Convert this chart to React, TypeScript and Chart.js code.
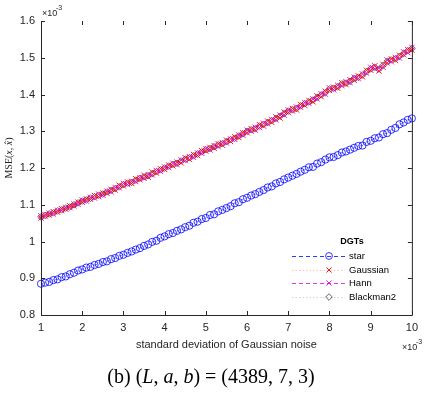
import React, { useEffect, useRef } from 'react';
import { Chart, registerables } from 'chart.js';

Chart.register(...registerables);

// x values: standard deviation of Gaussian noise (×10^-3)
const noiseStd = [
  1.0, 1.1, 1.2, 1.3, 1.4, 1.5, 1.6, 1.7, 1.8, 1.9,
  2.0, 2.1, 2.2, 2.3, 2.4, 2.5, 2.6, 2.7, 2.8, 2.9,
  3.0, 3.1, 3.2, 3.3, 3.4, 3.5, 3.6, 3.7, 3.8, 3.9,
  4.0, 4.1, 4.2, 4.3, 4.4, 4.5, 4.6, 4.7, 4.8, 4.9,
  5.0, 5.1, 5.2, 5.3, 5.4, 5.5, 5.6, 5.7, 5.8, 5.9,
  6.0, 6.1, 6.2, 6.3, 6.4, 6.5, 6.6, 6.7, 6.8, 6.9,
  7.0, 7.1, 7.2, 7.3, 7.4, 7.5, 7.6, 7.7, 7.8, 7.9,
  8.0, 8.1, 8.2, 8.3, 8.4, 8.5, 8.6, 8.7, 8.8, 8.9,
  9.0, 9.1, 9.2, 9.3, 9.4, 9.5, 9.6, 9.7, 9.8, 9.9,
  10.0,
];

// MSE (×10^-3) for the "star" DGT
const starMSE = [
  0.885, 0.888, 0.890, 0.895, 0.897, 0.903, 0.905, 0.911, 0.915, 0.921,
  0.924, 0.929, 0.931, 0.936, 0.939, 0.944, 0.946, 0.952, 0.955, 0.961,
  0.964, 0.969, 0.973, 0.978, 0.982, 0.988, 0.992, 0.999, 1.002, 1.010,
  1.014, 1.020, 1.023, 1.029, 1.033, 1.039, 1.043, 1.051, 1.054, 1.061,
  1.064, 1.072, 1.074, 1.082, 1.086, 1.091, 1.096, 1.104, 1.107, 1.115,
  1.119, 1.125, 1.129, 1.135, 1.140, 1.147, 1.150, 1.158, 1.162, 1.169,
  1.174, 1.179, 1.184, 1.190, 1.195, 1.202, 1.203, 1.212, 1.216, 1.223,
  1.229, 1.230, 1.235, 1.242, 1.245, 1.250, 1.255, 1.260, 1.261, 1.271,
  1.274, 1.281, 1.283, 1.292, 1.295, 1.304, 1.309, 1.319, 1.324, 1.331,
  1.335,
];

// MSE (×10^-3) for the Gaussian DGT
const gaussianMSE = [
  1.064, 1.073, 1.072, 1.081, 1.080, 1.089, 1.088, 1.097, 1.097, 1.107,
  1.107, 1.116, 1.115, 1.125, 1.122, 1.132, 1.131, 1.142, 1.140, 1.153,
  1.151, 1.162, 1.158, 1.171, 1.168, 1.180, 1.175, 1.189, 1.186, 1.198,
  1.196, 1.208, 1.206, 1.216, 1.214, 1.228, 1.223, 1.237, 1.234, 1.247,
  1.246, 1.256, 1.254, 1.266, 1.262, 1.276, 1.272, 1.285, 1.283, 1.296,
  1.296, 1.307, 1.303, 1.318, 1.314, 1.328, 1.324, 1.339, 1.336, 1.352,
  1.351, 1.362, 1.358, 1.373, 1.370, 1.384, 1.380, 1.396, 1.394, 1.409,
  1.411, 1.420, 1.417, 1.432, 1.427, 1.440, 1.439, 1.451, 1.448, 1.466,
  1.466, 1.478, 1.464, 1.482, 1.486, 1.497, 1.493, 1.507, 1.508, 1.522,
  1.521,
];

// MSE (×10^-3) for the Hann DGT
const hannMSE = [
  1.070, 1.068, 1.077, 1.075, 1.085, 1.084, 1.093, 1.092, 1.102, 1.101,
  1.113, 1.110, 1.120, 1.118, 1.129, 1.126, 1.137, 1.135, 1.147, 1.146,
  1.158, 1.155, 1.164, 1.163, 1.174, 1.172, 1.182, 1.181, 1.193, 1.191,
  1.203, 1.201, 1.213, 1.209, 1.222, 1.220, 1.231, 1.229, 1.241, 1.240,
  1.253, 1.249, 1.261, 1.258, 1.269, 1.268, 1.279, 1.278, 1.290, 1.289,
  1.303, 1.300, 1.311, 1.310, 1.322, 1.320, 1.332, 1.331, 1.344, 1.344,
  1.358, 1.355, 1.366, 1.365, 1.378, 1.376, 1.388, 1.388, 1.402, 1.401,
  1.418, 1.413, 1.425, 1.424, 1.435, 1.432, 1.447, 1.443, 1.456, 1.458,
  1.474, 1.470, 1.472, 1.474, 1.494, 1.489, 1.501, 1.499, 1.516, 1.514,
  1.528,
];

// MSE (×10^-3) for the Blackman2 DGT
const blackman2MSE = [
  1.067, 1.071, 1.075, 1.078, 1.083, 1.086, 1.091, 1.094, 1.100, 1.105,
  1.110, 1.113, 1.118, 1.122, 1.126, 1.129, 1.135, 1.139, 1.144, 1.149,
  1.155, 1.159, 1.161, 1.167, 1.172, 1.176, 1.179, 1.185, 1.190, 1.195,
  1.200, 1.205, 1.210, 1.213, 1.219, 1.224, 1.228, 1.233, 1.238, 1.244,
  1.250, 1.253, 1.258, 1.263, 1.266, 1.272, 1.277, 1.281, 1.287, 1.293,
  1.300, 1.304, 1.307, 1.314, 1.319, 1.324, 1.329, 1.335, 1.341, 1.348,
  1.355, 1.359, 1.362, 1.369, 1.375, 1.380, 1.385, 1.392, 1.399, 1.405,
  1.415, 1.417, 1.421, 1.429, 1.431, 1.436, 1.444, 1.447, 1.453, 1.462,
  1.470, 1.474, 1.469, 1.479, 1.490, 1.494, 1.497, 1.504, 1.512, 1.519,
  1.525,
];

const xTickValues = [1, 2, 3, 4, 5, 6, 7, 8, 9, 10];
const yTickValues = [0.8, 0.9, 1.0, 1.1, 1.2, 1.3, 1.4, 1.5, 1.6];

const legendTitle = 'DGTs';
const seriesNames = ['star', 'Gaussian', 'Hann', 'Blackman2'];
const xAxisTitle = 'standard deviation of Gaussian noise';
const captionText = [
  ['(b) (', false],
  ['L', true],
  [', ', false],
  ['a', true],
  [', ', false],
  ['b', true],
  [') = (4389, 7, 3)', false],
] as [string, boolean][];

const AXIS_COLOR = '#262626';
const SANS = '"Liberation Sans", Arial, sans-serif';
const SERIF = '"Liberation Serif", "DejaVu Serif", serif';

const seriesStyles = [
  { color: '#0000ff', line: '#0000ff', dash: [4, 3], point: 'circle', radius: 3.6, pw: 0.8 },
  { color: '#ff0000', line: '#ffb0b0', dash: [1.5, 2], point: 'crossRot', radius: 3.8, pw: 0.9 },
  { color: '#e000e0', line: '#e000e0', dash: [4, 3], point: 'crossRot', radius: 3.8, pw: 0.9 },
  { color: '#000000', line: '#c8c8c8', dash: [1.5, 2], point: 'rectRot', radius: 3.3, pw: 0.6 },
];

function drawSegments(ctx: CanvasRenderingContext2D, segs: [string, boolean][], cx: number, cy: number, size: number, family: string) {
  const fontFor = (it: boolean) => `${it ? 'italic ' : ''}${size}px ${family}`;
  let total = 0;
  for (const [t, it] of segs) {
    ctx.font = fontFor(it);
    total += ctx.measureText(t).width;
  }
  let x = cx - total / 2;
  ctx.textAlign = 'left';
  ctx.textBaseline = 'middle';
  for (const [t, it] of segs) {
    ctx.font = fontFor(it);
    ctx.fillText(t, x, cy);
    x += ctx.measureText(t).width;
  }
}

const overlayPlugin = {
  id: 'overlay',
  afterDraw(chart: any) {
    const ctx: CanvasRenderingContext2D = chart.ctx;
    const { left, right, top, bottom } = chart.chartArea;
    const xs = chart.scales.x;
    const ys = chart.scales.y;
    ctx.save();

    // axes box (left, bottom, right)
    ctx.strokeStyle = AXIS_COLOR;
    ctx.lineWidth = 1;
    ctx.setLineDash([]);
    ctx.beginPath();
    ctx.moveTo(left + 0.5, top);
    ctx.lineTo(left + 0.5, bottom + 0.5);
    ctx.lineTo(right + 0.5, bottom + 0.5);
    ctx.lineTo(right + 0.5, top);
    ctx.stroke();

    // inward ticks
    const tl = 4;
    ctx.beginPath();
    for (const v of xTickValues) {
      const px = Math.round(xs.getPixelForValue(v)) + 0.5;
      ctx.moveTo(px, bottom);
      ctx.lineTo(px, bottom - tl);
      ctx.moveTo(px, top);
      ctx.lineTo(px, top + tl);
    }
    for (const v of yTickValues) {
      const py = Math.round(ys.getPixelForValue(v)) + 0.5;
      ctx.moveTo(left, py);
      ctx.lineTo(left + tl, py);
      ctx.moveTo(right, py);
      ctx.lineTo(right - tl, py);
    }
    ctx.stroke();

    // exponents
    ctx.fillStyle = AXIS_COLOR;
    ctx.textAlign = 'left';
    ctx.textBaseline = 'alphabetic';
    ctx.font = `9px ${SANS}`;
    ctx.fillText('\u00d710', 42, 16);
    ctx.font = `7px ${SANS}`;
    ctx.fillText('-3', 56, 10);
    ctx.font = `9px ${SANS}`;
    ctx.fillText('\u00d710', 402, 350);
    ctx.font = `7px ${SANS}`;
    ctx.fillText('-3', 416, 344);

    // x axis title
    ctx.font = `11px ${SANS}`;
    ctx.textAlign = 'center';
    ctx.textBaseline = 'middle';
    ctx.fillText(xAxisTitle, (left + right) / 2, 345);

    // y axis title (rotated)
    ctx.save();
    ctx.translate(9, 158);
    ctx.rotate(-Math.PI / 2);
    drawSegments(ctx, [['MSE(', false], ['x', true], [', ', false], ['x\u0302', true], [')', false]], 0, 0, 10, SERIF);
    ctx.restore();

    // caption
    ctx.fillStyle = '#000';
    drawSegments(ctx, captionText, 211, 378, 20, SERIF);

    // legend
    ctx.fillStyle = '#000';
    ctx.font = `bold 9px ${SANS}`;
    ctx.textAlign = 'center';
    ctx.textBaseline = 'middle';
    ctx.fillText(legendTitle, 352, 242);
    const rowY = [256, 270, 283, 297];
    seriesNames.forEach((name, i) => {
      const st = seriesStyles[i];
      const y = rowY[i];
      ctx.strokeStyle = st.line;
      ctx.lineWidth = 0.8;
      ctx.setLineDash(st.dash);
      ctx.beginPath();
      ctx.moveTo(292, y + 0.5);
      ctx.lineTo(345, y + 0.5);
      ctx.stroke();
      ctx.setLineDash([]);
      ctx.strokeStyle = st.color;
      ctx.lineWidth = st.pw;
      const r = Math.min(st.radius, 3.4);
      const cx = 329;
      ctx.beginPath();
      if (st.point === 'circle') {
        ctx.arc(cx, y, r, 0, Math.PI * 2);
      } else if (st.point === 'crossRot') {
        const d = r * 0.75;
        ctx.moveTo(cx - d, y - d); ctx.lineTo(cx + d, y + d);
        ctx.moveTo(cx + d, y - d); ctx.lineTo(cx - d, y + d);
      } else {
        ctx.moveTo(cx, y - r); ctx.lineTo(cx + r, y); ctx.lineTo(cx, y + r); ctx.lineTo(cx - r, y); ctx.closePath();
      }
      ctx.stroke();
      ctx.fillStyle = '#000';
      ctx.font = `9.5px ${SANS}`;
      ctx.textAlign = 'left';
      ctx.fillText(name, 349, y);
    });

    ctx.restore();
  },
};

export default function App() {
  const canvasRef = useRef<HTMLCanvasElement | null>(null);

  useEffect(() => {
    if (!canvasRef.current) return;
    const seriesData = [starMSE, gaussianMSE, hannMSE, blackman2MSE];
    const chart = new Chart(canvasRef.current, {
      type: 'line',
      data: {
        datasets: seriesNames.map((name, i) => {
          const st = seriesStyles[i];
          return {
            label: name,
            data: noiseStd.map((x, k) => ({ x, y: seriesData[i][k] })),
            borderColor: st.line,
            borderWidth: 0.5,
            borderDash: st.dash,
            pointStyle: st.point as any,
            pointRadius: st.radius,
            pointBorderColor: st.color,
            pointBackgroundColor: 'rgba(0,0,0,0)',
            pointBorderWidth: st.pw,
            fill: false,
            clip: false as any,
            tension: 0,
          };
        }),
      },
      options: {
        animation: false,
        responsive: true,
        maintainAspectRatio: false,
        devicePixelRatio: 1,
        events: [],
        layout: { padding: { top: 21, right: 11, left: 0, bottom: 0 } },
        plugins: {
          legend: { display: false },
          tooltip: { enabled: false },
          title: { display: false },
        },
        scales: {
          x: {
            type: 'linear',
            min: 1,
            max: 10,
            afterFit: (s: any) => { s.height = 79; },
            afterBuildTicks: (s: any) => { s.ticks = xTickValues.map((v) => ({ value: v })); },
            grid: { display: false, drawTicks: false },
            border: { display: false },
            ticks: {
              padding: 6,
              color: AXIS_COLOR,
              font: { family: SANS, size: 11 },
              maxRotation: 0,
              callback: (v: any) => String(Math.round(Number(v))),
            },
          },
          y: {
            type: 'linear',
            min: 0.8,
            max: 1.6,
            afterFit: (s: any) => { s.width = 41; },
            afterBuildTicks: (s: any) => { s.ticks = yTickValues.map((v) => ({ value: v })); },
            grid: { display: false, drawTicks: false },
            border: { display: false },
            ticks: {
              padding: 6,
              color: AXIS_COLOR,
              font: { family: SANS, size: 11 },
              callback: (v: any) => {
                const r = Math.round(Number(v) * 10) / 10;
                return r === 1 ? '1' : r.toFixed(1);
              },
            },
          },
        },
      },
      plugins: [overlayPlugin],
    });
    return () => chart.destroy();
  }, []);

  return (
    <div style={{ position: 'absolute', left: 0, top: 0, width: 424, height: 394, background: '#fff' }}>
      <canvas ref={canvasRef} />
    </div>
  );
}
